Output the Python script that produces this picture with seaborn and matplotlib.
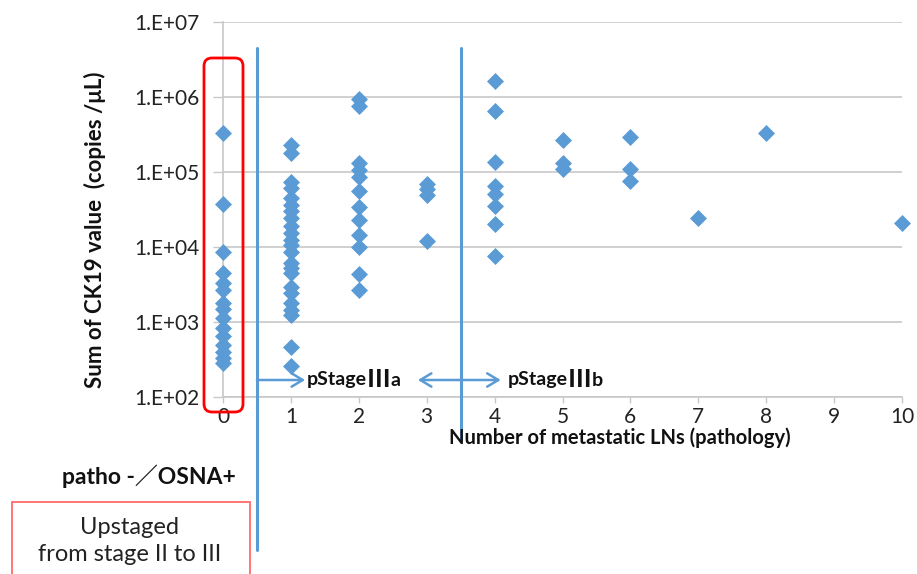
import numpy as np
import pandas as pd
import matplotlib
matplotlib.use("Agg")
import matplotlib.pyplot as plt
import matplotlib.transforms as mtransforms
from matplotlib.patches import FancyBboxPatch, Rectangle
from matplotlib.ticker import FixedLocator, FuncFormatter, NullLocator
import seaborn as sns

# CK19 sums (copies/uL), grouped by number of metastatic LNs
lns_0 = [3.3e5, 3.8e4, 8.6e3, 4.5e3, 3.3e3, 2.7e3, 1.8e3, 1.5e3, 1.13e3, 830, 650, 490, 400, 330, 285]
lns_1 = [2.3e5, 1.8e5, 7.4e4, 6.1e4, 4.5e4, 3.6e4, 3.0e4, 2.4e4, 1.9e4, 1.55e4, 1.24e4, 1.06e4,
         8.6e3, 6.1e3, 5.2e3, 4.5e3, 2.9e3, 2.4e3, 1.8e3, 1.45e3, 1.24e3, 465, 260]
lns_2 = [9.4e5, 7.6e5, 1.32e5, 1.06e5, 8.6e4, 5.6e4, 3.4e4, 2.3e4, 1.45e4, 1.0e4, 4.4e3, 2.7e3]
lns_3 = [6.9e4, 5.9e4, 4.9e4, 1.2e4]
lns_4 = [1.65e6, 6.5e5, 1.36e5, 6.5e4, 5.1e4, 3.5e4, 2.0e4, 7.6e3]
lns_5 = [2.7e5, 1.3e5, 1.1e5]
lns_6 = [2.95e5, 1.1e5, 7.6e4]
lns_7 = [2.4e4]
lns_8 = [3.3e5]
lns_10 = [2.1e4]

groups = {0: lns_0, 1: lns_1, 2: lns_2, 3: lns_3, 4: lns_4, 5: lns_5,
          6: lns_6, 7: lns_7, 8: lns_8, 10: lns_10}

x_ticks = list(range(0, 11))
y_ticks = [1e2, 1e3, 1e4, 1e5, 1e6, 1e7]

y_label = "Sum of CK19 value  (copies /\u03bcL)"
x_label = "Number of metastatic LNs (pathology)"
stage_a = ["pStage", "\u2162", "a"]
stage_b = ["pStage", "\u2162", "b"]
patho_label = "patho -\uff0fOSNA+"
upstage_label = "Upstaged\nfrom stage II to III"

rows = [(k, v) for k, vals in groups.items() for v in vals]
df = pd.DataFrame(rows, columns=["lns", "ck19"])

sns.set_style("white")
plt.rcParams['font.family'] = ['Lato', 'Noto Sans CJK JP', 'DejaVu Sans']

blue = "#5b9bd5"
grid_gray = "#c8c8c8"

W, H = 917, 574
fig = plt.figure(figsize=(W / 100, H / 100), dpi=100)
ax = fig.add_axes([223 / W, 1 - 397 / H, 679 / W, 375 / H])

sns.scatterplot(data=df, x="lns", y="ck19", marker="D", s=75, color=blue,
                edgecolor=blue, linewidth=0, ax=ax, zorder=3, clip_on=False)

ax.set_yscale("log")
ax.set_ylim(1e2, 1e7)
ax.set_xlim(0, 10)
ax.yaxis.set_major_locator(FixedLocator(y_ticks))
ax.yaxis.set_minor_locator(NullLocator())
ax.yaxis.set_major_formatter(FuncFormatter(lambda v, p: f"1.E+{int(round(np.log10(v))):02d}"))
ax.set_xticks(x_ticks)
ax.set_xlabel("")
ax.set_ylabel("")

ax.grid(axis="y", color=grid_gray, lw=1.2)
ax.grid(axis="x", visible=False)
for s in ["top", "right"]:
    ax.spines[s].set_visible(False)
for s in ["left", "bottom"]:
    ax.spines[s].set_color(grid_gray)
    ax.spines[s].set_linewidth(1.2)

ax.tick_params(axis="y", direction="out", length=7, width=1, color=grid_gray,
               pad=10, labelsize=15, labelcolor="#222222", left=True)
ax.tick_params(axis="x", direction="out", length=4, width=1, color=grid_gray,
               pad=3, labelsize=15, labelcolor="#222222", bottom=True)

# stage dividers
tr = mtransforms.blended_transform_factory(ax.transData, ax.transAxes)
ax.plot([0.5, 0.5], [(397 - 48) / 375, (397 - 550) / 375], color=blue, lw=2.2,
        transform=tr, clip_on=False, zorder=4)
ax.plot([3.5, 3.5], [(397 - 48) / 375, (397 - 440) / 375], color=blue, lw=2.2,
        transform=tr, clip_on=False, zorder=4)

# red rounded box around the 0 column
box = FancyBboxPatch((207 / 100, (H - 409) / 100), (240 - 207) / 100, (409 - 61) / 100,
                     boxstyle="round,pad=0.03,rounding_size=0.08",
                     transform=fig.dpi_scale_trans, fill=False, ec="#ff0000", lw=2,
                     clip_on=False, zorder=5)
fig.patches.append(box)

# stage arrows
ay = (397 - 380) / 375
arw = dict(arrowstyle="->,head_length=0.5,head_width=0.3", color=blue, lw=1.8,
           shrinkA=0, shrinkB=0, mutation_scale=16)
for x0, x1 in [(0.5, 1.21), (3.5, 2.87), (3.5, 4.09)]:
    ax.annotate("", xy=(x1, ay), xytext=(x0, ay), xycoords=("data", "axes fraction"),
                textcoords=("data", "axes fraction"), arrowprops=arw)


def stage_text(x, parts):
    t = ax.text(x, ay, parts[0], transform=tr, va="center", ha="left",
                fontsize=14, fontweight="bold", color="#111111")
    t2 = ax.annotate(parts[1], xy=(1, 0.5), xycoords=t, va="center", ha="left",
                     fontsize=17, fontweight="bold", color="#111111",
                     family=["Noto Sans CJK JP", "DejaVu Sans"])
    ax.annotate(parts[2], xy=(1, 0.5), xycoords=t2, va="center", ha="left",
                fontsize=14, fontweight="bold", color="#111111")


stage_text(1.23, stage_a)
stage_text(4.2, stage_b)

fig.text(95 / W, 1 - 230 / H, y_label, rotation=90, ha="center", va="center",
         fontsize=16, fontweight="bold", color="#111111")
fig.text(620 / W, 1 - 438 / H, x_label, ha="center", va="center",
         fontsize=14.5, fontweight="bold", color="#111111")
fig.text(236 / W, 1 - 476 / H, patho_label, ha="right", va="center",
         fontsize=16.5, fontweight="bold", color="#111111")

fig.patches.append(Rectangle((12 / W, -0.02), (250 - 12) / W, (H - 502) / H + 0.02,
                             transform=fig.transFigure, fill=False, ec="#ff6b6b",
                             lw=1.3, clip_on=False))
fig.text(130 / W, 1 - 541 / H, upstage_label, ha="center", va="center",
         fontsize=17, color="#222222", linespacing=1.3)

fig.savefig("out.png", dpi=100)
